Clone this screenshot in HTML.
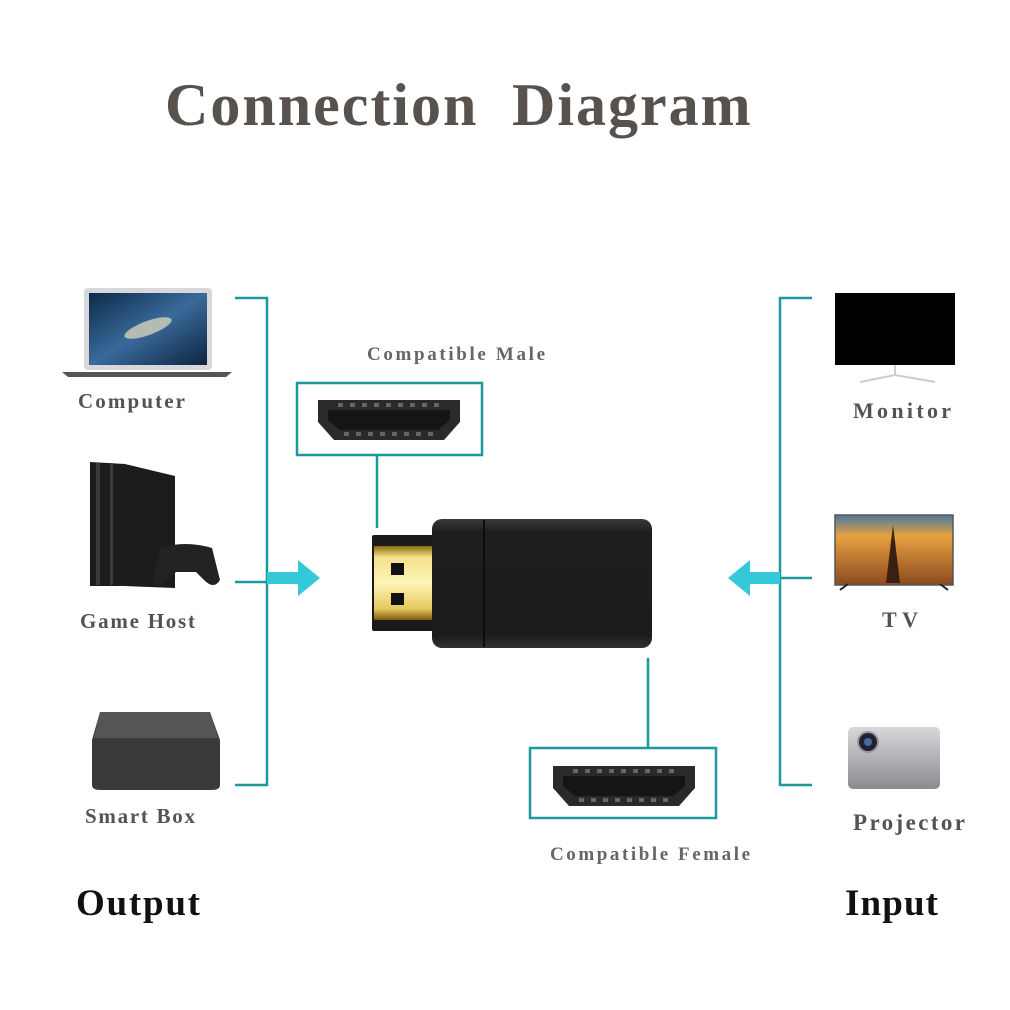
<!DOCTYPE html>
<html><head><meta charset="utf-8"><style>
html,body{margin:0;padding:0;background:#fff}
svg{display:block}
text{font-family:"Liberation Serif",serif;font-weight:bold}
</style></head><body>
<svg width="1010" height="1010" viewBox="0 0 1010 1010" xmlns="http://www.w3.org/2000/svg">
<defs>
<linearGradient id="gold" x1="0" y1="0" x2="0" y2="1">
<stop offset="0" stop-color="#8a6a10"/><stop offset="0.15" stop-color="#f3e08a"/><stop offset="0.5" stop-color="#fff4b8"/><stop offset="0.85" stop-color="#e6c860"/><stop offset="1" stop-color="#7a5a08"/></linearGradient>
<linearGradient id="body" x1="0" y1="0" x2="0" y2="1">
<stop offset="0" stop-color="#3a3a3a"/><stop offset="0.1" stop-color="#1e1e1e"/><stop offset="0.9" stop-color="#1c1c1c"/><stop offset="1" stop-color="#333"/></linearGradient>
<linearGradient id="space" x1="0" y1="0" x2="1" y2="1">
<stop offset="0" stop-color="#0c2a4a"/><stop offset="0.5" stop-color="#3a6a9a"/><stop offset="1" stop-color="#0c2440"/></linearGradient>
<linearGradient id="tv" x1="0" y1="0" x2="0" y2="1">
<stop offset="0" stop-color="#4a7aa0"/><stop offset="0.3" stop-color="#e8a040"/><stop offset="1" stop-color="#8a4a20"/></linearGradient>
<linearGradient id="proj" x1="0" y1="0" x2="0" y2="1">
<stop offset="0" stop-color="#d8d8dc"/><stop offset="1" stop-color="#8a8a90"/></linearGradient>
<g id="hdmi">
<path d="M0 0 H142 V22 L126 40 H16 L0 22 Z" fill="#2a2a2a"/>
<path d="M10 10 H132 V20 L120 30 H22 L10 20 Z" fill="#151515"/>
<g fill="#666"><rect x="20" y="3" width="5" height="4"/><rect x="32" y="3" width="5" height="4"/><rect x="44" y="3" width="5" height="4"/><rect x="56" y="3" width="5" height="4"/><rect x="68" y="3" width="5" height="4"/><rect x="80" y="3" width="5" height="4"/><rect x="92" y="3" width="5" height="4"/><rect x="104" y="3" width="5" height="4"/><rect x="116" y="3" width="5" height="4"/>
<rect x="26" y="32" width="5" height="4"/><rect x="38" y="32" width="5" height="4"/><rect x="50" y="32" width="5" height="4"/><rect x="62" y="32" width="5" height="4"/><rect x="74" y="32" width="5" height="4"/><rect x="86" y="32" width="5" height="4"/><rect x="98" y="32" width="5" height="4"/><rect x="110" y="32" width="5" height="4"/></g>
</g>
</defs>

<text x="165" y="125" font-size="60" fill="#58524f" letter-spacing="2">Connection</text>
<text x="512" y="125" font-size="60" fill="#58524f" letter-spacing="2">Diagram</text>

<g stroke="#1a9a9c" stroke-width="2.5" fill="none">
<path d="M235 298 H267 V785 H235"/><path d="M235 582 H267"/>
<path d="M812 298 H780 V785 H812"/><path d="M812 578 H780"/>
<path d="M377 455 V528"/><path d="M648 658 V748"/>
<rect x="297" y="383" width="185" height="72"/>
<rect x="530" y="748" width="186" height="70"/>
</g>
<path d="M267 572 H298 V560 L320 578 L298 596 V584 H267 Z" fill="#35c8d8"/>
<path d="M780 572 H750 V560 L728 578 L750 596 V584 H780 Z" fill="#35c8d8"/>

<use href="#hdmi" x="318" y="400"/>
<use href="#hdmi" x="553" y="766"/>

<rect x="372" y="535" width="62" height="96" rx="2" fill="#1a1a1a"/>
<rect x="374" y="546" width="60" height="74" fill="url(#gold)"/>
<rect x="391" y="563" width="13" height="12" fill="#111"/>
<rect x="391" y="593" width="13" height="12" fill="#111"/>
<rect x="432" y="519" width="220" height="129" rx="10" fill="url(#body)"/>
<line x1="484" y1="520" x2="484" y2="647" stroke="#0c0c0c" stroke-width="2"/>

<rect x="84" y="288" width="128" height="82" rx="4" fill="#d8d8dc"/>
<rect x="89" y="293" width="118" height="72" fill="url(#space)"/>
<ellipse cx="148" cy="328" rx="25" ry="7" fill="#e8e0c0" opacity="0.7" transform="rotate(-20 148 328)"/>
<path d="M62 372 H232 L226 377 H68 Z" fill="#555"/>

<path d="M90 462 L125 464 L175 476 V588 L125 586 L90 586 Z" fill="#1c1c1e"/>
<rect x="96" y="463" width="4" height="122" fill="#3a3a3c"/>
<rect x="110" y="463" width="3" height="122" fill="#3a3a3c"/>
<path d="M160 548 Q185 540 212 548 L220 580 Q214 590 204 580 L196 572 H176 L168 580 Q158 590 153 580 Z" fill="#222"/>

<path d="M100 712 H210 L220 740 V785 Q220 790 212 790 H100 Q92 790 92 785 V740 Z" fill="#3a3a3c"/>
<path d="M100 712 H210 L218 738 H94 Z" fill="#555"/>

<rect x="835" y="293" width="120" height="72" fill="#000"/>
<path d="M895 365 V375 M860 382 L895 375 L935 382" stroke="#ccc" stroke-width="2" fill="none"/>
<rect x="835" y="515" width="118" height="70" fill="url(#tv)" stroke="#555" stroke-width="1.5"/>
<path d="M893 525 L886 583 H900 Z" fill="#3a2010"/>
<path d="M840 590 L848 584 M948 590 L940 584" stroke="#222" stroke-width="2"/>
<rect x="848" y="727" width="92" height="62" rx="5" fill="url(#proj)"/>
<circle cx="868" cy="742" r="10" fill="#223" stroke="#999" stroke-width="2"/>
<circle cx="868" cy="742" r="4" fill="#4a6aa0"/>

<g font-size="21" fill="#58524f">
<text x="78" y="408" textLength="107" lengthAdjust="spacing">Computer</text>
<text x="80" y="628" textLength="115" lengthAdjust="spacing">Game Host</text>
<text x="85" y="823" textLength="110" lengthAdjust="spacing">Smart Box</text>
<text x="853" y="418" font-size="22" textLength="98" lengthAdjust="spacing">Monitor</text>
<text x="882" y="627" font-size="22" textLength="36" lengthAdjust="spacing">TV</text>
<text x="853" y="830" font-size="23" textLength="112" lengthAdjust="spacing">Projector</text>
</g>
<g font-size="19" fill="#6a6462">
<text x="367" y="360" textLength="178" lengthAdjust="spacing">Compatible Male</text>
<text x="550" y="860" textLength="200" lengthAdjust="spacing">Compatible Female</text>
</g>
<text x="76" y="915" font-size="37" fill="#111" textLength="124" lengthAdjust="spacing">Output</text>
<text x="845" y="915" font-size="37" fill="#111" textLength="93" lengthAdjust="spacing">Input</text>
</svg>
</body></html>
